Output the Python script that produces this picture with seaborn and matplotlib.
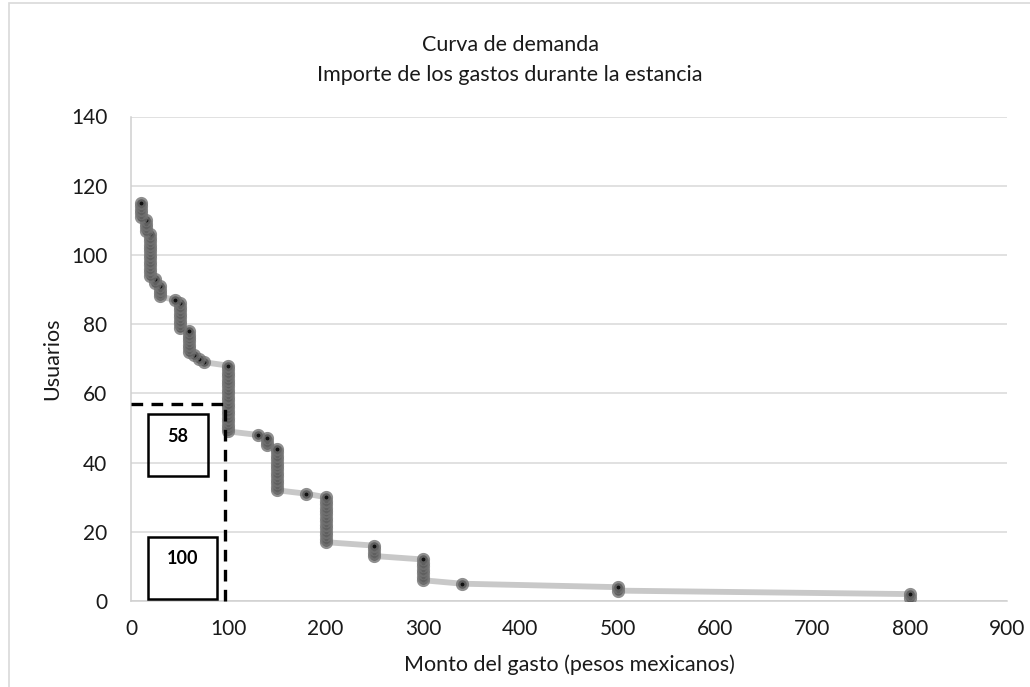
import numpy as np
import pandas as pd
import matplotlib
matplotlib.use("Agg")
import matplotlib.pyplot as plt
from matplotlib.patches import Rectangle
import seaborn as sns

# Data: spending levels and number of users at each level
gasto_niveles = [10, 15, 20, 25, 30, 45, 50, 60, 65, 70, 75, 100, 130, 140, 150,
                 180, 200, 250, 300, 340, 500, 800]
usuarios_por_nivel = [5, 4, 13, 2, 4, 1, 8, 7, 1, 1, 1, 20, 1, 3, 13,
                      1, 14, 4, 7, 1, 2, 2]

x_ticks = [0, 100, 200, 300, 400, 500, 600, 700, 800, 900]
y_ticks = [0, 20, 40, 60, 80, 100, 120, 140]

marca_x = 97
marca_y = 57
etiqueta_sup = "58"
etiqueta_inf = "100"

titulo = "Curva de demanda\nImporte de los gastos durante la estancia"
x_label = "Monto del gasto (pesos mexicanos)"
y_label = "Usuarios"

gasto = np.repeat(gasto_niveles, usuarios_por_nivel)
n = len(gasto)
usuarios = np.arange(n, 0, -1)
df = pd.DataFrame({"gasto": gasto, "usuarios": usuarios})
# markers drawn from the bottom up so the top marker of each step is on top
df_markers = df.iloc[::-1].reset_index(drop=True)

sns.set_theme(style="white")
plt.rcParams["font.family"] = ["Lato", "DejaVu Sans"]

fig = plt.figure(figsize=(10.30, 6.87), dpi=100)
ax = fig.add_axes([131 / 1030, 1 - 601 / 687, 876 / 1030, (601 - 116.5) / 687])

# figure frame
fig.patches.append(Rectangle((9 / 1030, -0.05), 1.2, 1 - 3 / 687 + 0.05,
                             transform=fig.transFigure, fill=False,
                             edgecolor="#d9d9d9", linewidth=1.2))

sns.lineplot(data=df, x="gasto", y="usuarios", ax=ax, color="#c8c8c8",
             linewidth=4.2, sort=False, estimator=None, zorder=2)
sns.scatterplot(data=df_markers, x="gasto", y="usuarios", ax=ax,
                color="#111111", s=38, linewidth=3.3,
                edgecolor=(0.45, 0.45, 0.45, 0.8), zorder=3)

ax.set_xlim(0, 900)
ax.set_ylim(0, 140)
ax.set_xticks(x_ticks)
ax.set_yticks(y_ticks)
ax.grid(axis="y", color="#d9d9d9", linewidth=1.1)
ax.grid(axis="x", visible=False)
for s in ["top", "right"]:
    ax.spines[s].set_visible(False)
for s in ["left", "bottom"]:
    ax.spines[s].set_color("#d0d0d0")
    ax.spines[s].set_linewidth(1.1)
ax.tick_params(axis="both", length=0, labelsize=15, colors="#1a1a1a")
ax.tick_params(axis="x", pad=13)
ax.tick_params(axis="y", pad=17)

ax.set_xlabel(x_label, fontsize=15.5, color="#1a1a1a", labelpad=11)
ax.set_ylabel(y_label, fontsize=15.5, color="#1a1a1a", labelpad=6)
fig.text(510 / 1030, 1 - 60 / 687, titulo, ha="center", va="center",
         fontsize=15.5, color="#1a1a1a", linespacing=1.6)

# dashed reference lines
ax.plot([0, marca_x], [marca_y, marca_y], color="black", linestyle=(0, (3.5, 2.5)),
        linewidth=2.4, zorder=5, clip_on=False)
ax.plot([marca_x, marca_x], [0, marca_y], color="black", linestyle=(0, (3.5, 2.5)),
        linewidth=2.4, zorder=5, clip_on=False)

# boxes with labels
ax.add_patch(Rectangle((17.5, 36), 61.5, 18, fill=False, edgecolor="black",
                       linewidth=1.8, zorder=5))
ax.text(48, 47.5, etiqueta_sup, ha="center", va="center", fontsize=13,
        fontweight="bold", color="black", zorder=6)
ax.add_patch(Rectangle((17.5, 0.5), 70.5, 18, fill=False, edgecolor="black",
                       linewidth=1.8, zorder=5, clip_on=False))
ax.text(53, 12.3, etiqueta_inf, ha="center", va="center", fontsize=13,
        fontweight="bold", color="black", zorder=6)

fig.savefig("out.png", dpi=100)
